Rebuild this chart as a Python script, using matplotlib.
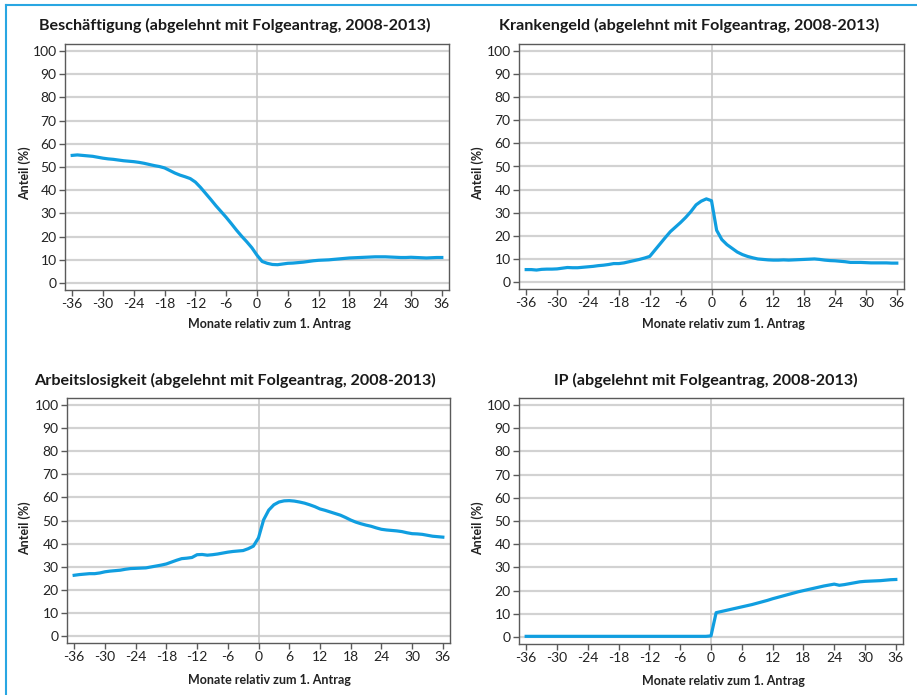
import numpy as np
import matplotlib
matplotlib.use('Agg')
import matplotlib.pyplot as plt
from matplotlib.lines import Line2D

plt.rcParams['font.family'] = ['Lato', 'DejaVu Sans']

months = list(range(-36, 37))

beschaeftigung = [55.0, 55.2, 55.0, 54.8, 54.6, 54.2, 53.8, 53.5, 53.3, 53.0, 52.7, 52.5,
                  52.3, 52.0, 51.6, 51.1, 50.6, 50.2, 49.6, 48.5, 47.4, 46.5, 45.8, 45.0,
                  43.5, 41.2, 38.6, 36.0, 33.3, 30.8, 28.3, 25.6, 22.8, 20.2, 17.8, 15.2,
                  12.0, 9.3, 8.5, 8.0, 7.9, 8.2, 8.5, 8.6, 8.8, 9.0, 9.3, 9.6,
                  9.8, 9.9, 10.0, 10.2, 10.4, 10.6, 10.8, 10.9, 11.0, 11.1, 11.2, 11.3,
                  11.3, 11.3, 11.2, 11.1, 11.0, 11.0, 11.1, 11.0, 10.9, 10.8, 10.9, 11.0, 11.0]

krankengeld = [5.4, 5.4, 5.2, 5.5, 5.6, 5.6, 5.7, 6.0, 6.3, 6.2, 6.2, 6.4,
               6.6, 6.8, 7.1, 7.3, 7.6, 8.0, 8.0, 8.3, 8.8, 9.3, 9.8, 10.4,
               11.1, 13.8, 16.5, 19.2, 21.8, 23.8, 25.8, 28.0, 30.5, 33.4, 35.0, 36.0,
               35.2, 22.4, 18.4, 16.2, 14.6, 13.0, 11.9, 11.1, 10.5, 10.0, 9.8, 9.6,
               9.5, 9.5, 9.6, 9.5, 9.6, 9.7, 9.8, 9.9, 10.0, 9.8, 9.5, 9.3,
               9.2, 9.0, 8.8, 8.5, 8.5, 8.5, 8.4, 8.3, 8.3, 8.3, 8.3, 8.2, 8.2]

arbeitslosigkeit = [26.3, 26.6, 26.8, 27.0, 27.0, 27.3, 27.8, 28.1, 28.3, 28.5, 28.9, 29.2,
                    29.3, 29.4, 29.5, 29.9, 30.3, 30.7, 31.2, 32.0, 32.8, 33.5, 33.7, 34.0,
                    35.2, 35.3, 35.0, 35.2, 35.5, 35.9, 36.3, 36.6, 36.8, 37.0, 37.8, 38.9,
                    42.5, 50.3, 54.5, 56.8, 58.0, 58.5, 58.6, 58.4, 58.0, 57.5, 56.8, 56.0,
                    55.0, 54.4, 53.7, 53.0, 52.3, 51.3, 50.2, 49.3, 48.6, 48.0, 47.5, 46.8,
                    46.2, 45.9, 45.7, 45.5, 45.2, 44.7, 44.3, 44.2, 44.0, 43.6, 43.2, 43.0, 42.8]

ip = [0.3] * 36 + [0.5, 10.5, 11.0, 11.5, 12.0, 12.5, 13.0, 13.5, 14.0, 14.6, 15.2, 15.8,
                   16.5, 17.1, 17.7, 18.3, 18.9, 19.5, 20.0, 20.5, 21.0, 21.5, 22.0, 22.4,
                   22.8, 22.3, 22.6, 23.0, 23.4, 23.8, 24.0, 24.1, 24.2, 24.3, 24.5, 24.7, 24.8]

titles = ['Beschäftigung (abgelehnt mit Folgeantrag, 2008-2013)',
          'Krankengeld (abgelehnt mit Folgeantrag, 2008-2013)',
          'Arbeitslosigkeit (abgelehnt mit Folgeantrag, 2008-2013)',
          'IP (abgelehnt mit Folgeantrag, 2008-2013)']
series = [beschaeftigung, krankengeld, arbeitslosigkeit, ip]
xticks = list(range(-36, 37, 6))
yticks = list(range(0, 101, 10))

W, H = 917, 695
fig = plt.figure(figsize=(W / 100, H / 100), dpi=100)

# axes boxes in pixels: left, right, top, bottom
boxes = [(65, 449, 44, 290), (519, 904, 44, 289), (67, 450, 398, 643), (519, 903, 398, 644)]
title_pos = [(235, 25), (689, 25), (235, 380), (706, 380)]
ylab_pos = [(25, 173), (478, 173), (25, 528), (478, 528)]
xlab_pos = [(269, 324), (723, 324), (269, 680), (723, 681)]

line_col = '#109ee0'
grid_col = '#d2d2d2'
spine_col = '#5a5a5a'

for i in range(4):
    l, r, t, b = boxes[i]
    ax = fig.add_axes([l / W, 1 - b / H, (r - l) / W, (b - t) / H])
    ax.set_xlim(-37.4, 37.4)
    ax.set_ylim(-3, 103)
    ax.set_yticks(yticks)
    ax.set_xticks(xticks)
    ax.set_xticklabels([str(v) for v in xticks])
    ax.grid(axis='y', color=grid_col, linewidth=1.6)
    ax.axvline(0, color='#c8c8c8', linewidth=1.2, zorder=1)
    ax.plot(months, series[i], color=line_col, linewidth=2.3, zorder=3)
    ax.set_axisbelow(True)
    for s in ax.spines.values():
        s.set_color(spine_col)
        s.set_linewidth(1.0)
    ax.tick_params(axis='both', colors=spine_col, labelcolor='#222222', labelsize=10,
                   length=4, width=1, pad=2)
    fig.text(title_pos[i][0] / W, 1 - title_pos[i][1] / H, titles[i], ha='center', va='center',
             fontsize=11.6, fontweight='bold', color='#1a1a1a')
    fig.text(ylab_pos[i][0] / W, 1 - ylab_pos[i][1] / H, 'Anteil (%)', ha='center', va='center',
             rotation=90, fontsize=9, fontweight='bold', color='#222222')
    fig.text(xlab_pos[i][0] / W, 1 - xlab_pos[i][1] / H, 'Monate relativ zum 1. Antrag',
             ha='center', va='center', fontsize=9, fontweight='bold', color='#222222')

# light blue frame on left and top
fig.add_artist(Line2D([5.5 / W, 5.5 / W], [0, 1 - 4.5 / H], color='#29a6e2', linewidth=1.5))
fig.add_artist(Line2D([5.5 / W, 1], [1 - 4.5 / H, 1 - 4.5 / H], color='#29a6e2', linewidth=1.5))

fig.savefig('out.png', dpi=100)
